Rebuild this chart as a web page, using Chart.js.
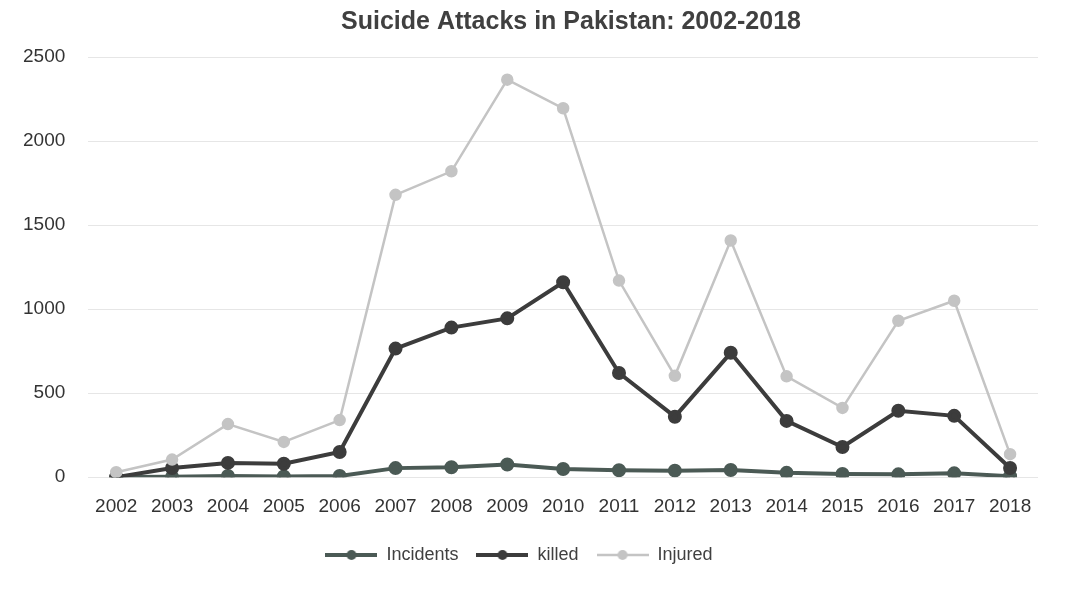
<!DOCTYPE html>
<html>
<head>
<meta charset="utf-8">
<script src="https://cdn.jsdelivr.net/npm/chart.js@4"></script>
<style>
  html, body { margin: 0; padding: 0; background: #fff; }
  #wrap { width: 1066px; height: 591px; }
</style>
</head>
<body>
<div id="wrap"><canvas id="myChart" width="1066" height="591"></canvas></div>
<script>
const years = ['2002', '2003', '2004', '2005', '2006', '2007', '2008', '2009', '2010',
  '2011', '2012', '2013', '2014', '2015', '2016', '2017', '2018'];
const incidents = [1, 2, 7, 4, 7, 54, 59, 76, 49, 41, 39, 43, 26, 19, 17, 23, 6];
const killed = [0, 55, 85, 80, 150, 765, 890, 945, 1160, 620, 360, 740, 335, 180, 395, 365, 55];
const injured = [30, 105, 316, 210, 340, 1680, 1820, 2365, 2195, 1170, 603, 1408, 600, 412, 931, 1050, 137];
const yTicks = [0, 500, 1000, 1500, 2000, 2500];
const chartTitle = 'Suicide Attacks in Pakistan: 2002-2018';

const FONT = "'Liberation Sans', 'Noto Sans', sans-serif";

// legend marker: short line with a dot in the middle, like excel
function legendMarker(color, width) {
  const c = document.createElement('canvas');
  c.width = 52; c.height = 14;
  const g = c.getContext('2d');
  g.strokeStyle = color;
  g.lineWidth = width;
  g.beginPath(); g.moveTo(0, 7); g.lineTo(52, 7); g.stroke();
  g.fillStyle = color;
  g.beginPath(); g.arc(26, 7, 5, 0, Math.PI * 2); g.fill();
  return c;
}

// the title sits a bit right of the canvas centre in the original
const titlePlugin = {
  id: 'offTitle',
  afterDraw(chart) {
    const c = chart.ctx;
    c.save();
    c.font = 'bold 25px ' + FONT;
    c.fillStyle = '#404040';
    c.textAlign = 'center';
    c.textBaseline = 'middle';
    c.fillText(chartTitle, 571, 22);
    c.restore();
  }
};

const series = [
  { label: 'Incidents', data: incidents, color: '#4b5a55', width: 4 },
  { label: 'killed', data: killed, color: '#3c3c3c', width: 4 },
  { label: 'Injured', data: injured, color: '#c4c4c4', width: 2.5 }
];

const ctx = document.getElementById('myChart');
window.myChart = new Chart(ctx, {
  type: 'line',
  data: {
    labels: years,
    datasets: series.map(s => ({
      label: s.label,
      data: s.data,
      borderColor: s.color,
      backgroundColor: s.color,
      borderWidth: s.width,
      pointRadius: 5,
      pointHoverRadius: 5,
      pointBackgroundColor: s.color,
      pointBorderColor: s.color,
      tension: 0,
      fill: false
    })).reverse()
  },
  options: {
    responsive: false,
    animation: false,
    layout: { padding: { left: 0, right: 28, top: 57, bottom: 17 } },
    plugins: {
      title: { display: false },
      legend: {
        position: 'bottom',
        labels: {
          color: '#404040',
          font: { family: FONT, size: 18 },
          usePointStyle: true,
          pointStyleWidth: 52,
          boxHeight: 14,
          padding: 18,
          generateLabels: chart => series.map((s, i) => ({
            text: s.label,
            pointStyle: legendMarker(s.color, s.width),
            fillStyle: s.color,
            strokeStyle: s.color,
            lineWidth: 0,
            fontColor: '#404040',
            datasetIndex: 2 - i
          }))
        }
      },
      tooltip: { enabled: false }
    },
    scales: {
      x: {
        offset: true,
        grid: { display: false },
        border: { display: false },
        ticks: { color: '#333', font: { family: FONT, size: 19 }, padding: 10, maxRotation: 0 }
      },
      y: {
        min: 0,
        max: 2500,
        afterBuildTicks: axis => { axis.ticks = yTicks.map(v => ({ value: v })); },
        grid: { color: '#e6e6e6', lineWidth: 1, drawTicks: false },
        border: { display: false },
        ticks: {
          color: '#333',
          font: { family: FONT, size: 19 },
          padding: 23,
          callback: v => String(v)
        }
      }
    }
  },
  plugins: [titlePlugin]
});
</script>
</body>
</html>
